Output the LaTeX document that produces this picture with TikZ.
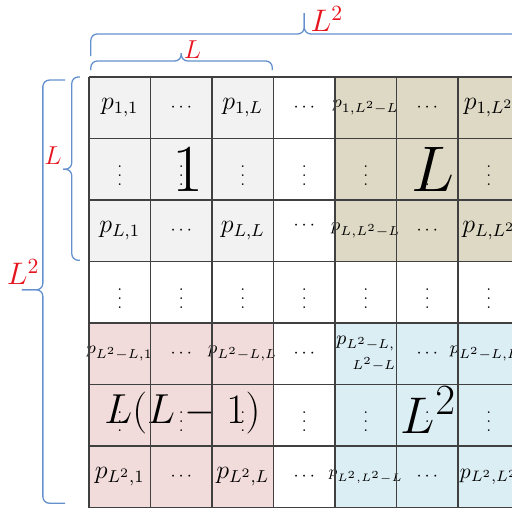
\documentclass[tikz,border=0pt]{standalone}
\usetikzlibrary{positioning}
\definecolor{gridGray}{RGB}{64,64,64}
\definecolor{blockGray}{RGB}{242,242,242}
\definecolor{blockTan}{RGB}{221,217,196}
\definecolor{blockPink}{RGB}{242,220,219}
\definecolor{blockBlue}{RGB}{219,238,244}
\definecolor{braceBlue}{RGB}{100,145,205}
\definecolor{labelRed}{RGB}{230,20,30}
\newcommand{\hdt}{{\footnotesize$\cdots$}}
\newcommand{\vdt}{{\scriptsize$\vdots$}}

\begin{document}
\begin{tikzpicture}[
    cell/.style={rectangle, minimum size=1cm, inner sep=0pt, font=\large},
    gridline/.style={draw=gridGray, line width=0.8pt},
    brace/.style={draw=braceBlue, line width=0.6pt, rounded corners=3pt},
    lbl/.style={text=labelRed, inner sep=0.5pt},
    big/.style={inner sep=0pt, font=\Huge}
]
\clip (-1.447,-7.008) rectangle (6.878,1.252);

% block fills
\fill[blockGray] (0,0) rectangle (3,-3);
\fill[blockTan]  (4,0) rectangle (7,-3);
\fill[blockPink] (0,-4) rectangle (3,-7);
\fill[blockBlue] (4,-4) rectangle (7,-7);

% cells, row by row
\foreach \c/\t in {1/{$p_{1,1}$}, 2/\hdt, 3/{$p_{1,L}$}, 4/\hdt, 5/{\footnotesize$p_{1,L^2-L}$}, 6/\hdt, 7/{$p_{1,L^2}$}}
    \node[cell] (r1c\c) at (\c-0.5,-0.5) {\t};
\foreach \c in {1,...,7}
    \node[cell] (r2c\c) at (\c-0.5,-1.5) {\vdt};
\foreach \c/\t in {1/{$p_{L,1}$}, 2/\hdt, 3/{$p_{L,L}$}, 4/{\raisebox{5pt}{\hdt}}, 5/{\footnotesize$p_{L,L^2-L}$}, 6/\hdt, 7/{$p_{L,L^2}$}}
    \node[cell] (r3c\c) at (\c-0.5,-2.5) {\t};
\foreach \c in {1,...,7}
    \node[cell] (r4c\c) at (\c-0.5,-3.5) {\vdt};
\foreach \c/\t in {1/{\footnotesize$p_{L^2-L,1}$}, 2/\hdt, 3/{\footnotesize$p_{L^2-L,L}$}, 4/\hdt, 5/{\small\shortstack[r]{$p_{L^2-L,}$\\$\scriptstyle L^2-L$}}, 6/\hdt, 7/{\footnotesize$p_{L^2-L,L^2}$}}
    \node[cell] (r5c\c) at (\c-0.5,-4.5) {\t};
\foreach \c in {1,...,7}
    \node[cell] (r6c\c) at (\c-0.5,-5.5) {\vdt};
\foreach \c/\t in {1/{$p_{L^2,1}$}, 2/\hdt, 3/{$p_{L^2,L}$}, 4/\hdt, 5/{\scriptsize$p_{L^2,L^2-L}$}, 6/\hdt, 7/{\normalsize$p_{L^2,L^2}$}}
    \node[cell] (r7c\c) at (\c-0.5,-6.5) {\t};

% block numbers
\node[big] (numOne) at (1.61,-1.5) {\scalebox{1.25}{1}};
\node[big] (numL) at (5.6,-1.5) {\scalebox{1.2}{$L$}};
\node[big] (numLL) at (1.52,-5.46) {\scalebox{0.78}{$L(L-1)$}};
\node[big] (numLsq) at (5.52,-5.42) {\scalebox{0.96}{$L^2$}};

% grid over everything
\draw[gridline] (0,0) grid (7,-7);

% braces on top
\coordinate (tipTopL) at (1.5,0.39);
\coordinate (tipTopLsq) at (3.5,1.04);
\draw[brace] (0.03,0.11) -- (0.03,0.26) -- (1.5,0.26) -- (tipTopL);
\draw[brace] (2.98,0.11) -- (2.98,0.26) -- (1.5,0.26) -- (tipTopL);
\draw[brace] (0.03,0.34) -- (0.03,0.70) -- (3.5,0.70) -- (tipTopLsq);
\draw[brace] (6.97,0.34) -- (6.97,0.70) -- (3.5,0.70) -- (tipTopLsq);
\node[lbl, anchor=south west, font=\large] (labTopL) at (1.52,0.27) {$L$};
\node[lbl, anchor=south west, font=\Large] (labTopLsq) at (3.58,0.71) {$L^2$};

% braces on the left
\coordinate (tipLeftL) at (-0.42,-1.5);
\coordinate (tipLeftLsq) at (-1.09,-3.46);
\draw[brace] (-0.15,0) -- (-0.28,0) -- (-0.28,-1.5) -- (tipLeftL);
\draw[brace] (-0.15,-2.98) -- (-0.28,-2.98) -- (-0.28,-1.5) -- (tipLeftL);
\draw[brace] (-0.39,-0.05) -- (-0.75,-0.05) -- (-0.75,-3.46) -- (tipLeftLsq);
\draw[brace] (-0.39,-6.93) -- (-0.75,-6.93) -- (-0.75,-3.46) -- (tipLeftLsq);
\node[lbl, anchor=south east, font=\large] (labLeftL) at (-0.42,-1.45) {$L$};
\node[lbl, anchor=south east, font=\Large] (labLeftLsq) at (-0.78,-3.40) {$L^2$};

\end{tikzpicture}
\end{document}
